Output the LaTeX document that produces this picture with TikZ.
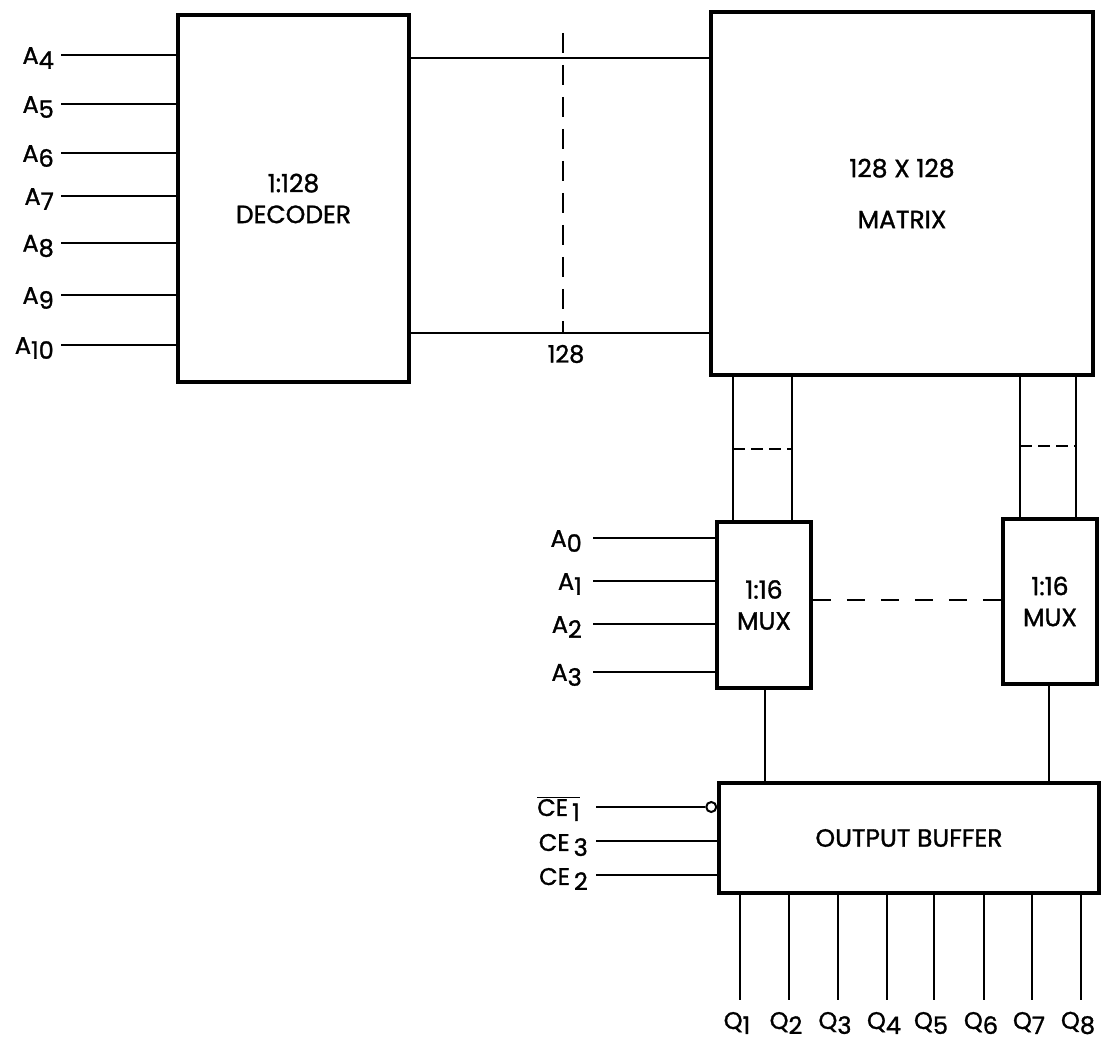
\documentclass[tikz,border=0pt]{standalone}
\usepackage{fontspec}
\setmainfont{Poppins}[FakeBold=1.2]
\newcommand{\lsub}[1]{\raisebox{-0.38ex}{#1}}
\begin{document}
\begin{tikzpicture}[x=1pt,y=-1pt,
  blk/.style={draw, line width=4.5pt, inner sep=0pt, align=center, font=\fontsize{25}{25}\selectfont},
  sblk/.style={blk, line width=3.5pt},
  wire/.style={line width=2.4pt},
  lbl/.style={inner sep=0pt, font=\fontsize{24}{24}\selectfont},
  longdash/.style={wire, dash pattern=on 20pt off 12pt},
  shortdash/.style={wire, dash pattern=on 12pt off 6pt}]
\useasboundingbox (0,0) rectangle (1109,1043);
% blocks
\node[blk, minimum width=231pt, minimum height=367pt] (dec) at (293.5,198.5) {1:128\\[6pt]DECODER};
\node[blk, minimum width=382pt, minimum height=363pt] (mat) at (902,193.5) {128 X 128\\[26pt]MATRIX};
\node[sblk, minimum width=94pt, minimum height=166pt] (muxL) at (764,605) {1:16\\[6pt]MUX};
\node[sblk, minimum width=94pt, minimum height=165pt] (muxR) at (1050,601.5) {1:16\\[6pt]MUX};
\node[sblk, minimum width=380pt, minimum height=110pt] (buf) at (909,838) {OUTPUT BUFFER};
% decoder inputs
\foreach \n/\y in {4/55,5/104,6/153,7/196,8/243,9/295,10/345} {
  \coordinate (ia\n) at (61,\y);
  \node[lbl, anchor=east] (la\n) at (54,\y+3) {A\lsub{\n}};
  \draw[wire] (ia\n) -- (ia\n -| dec.west);
}
% decoder to matrix bus
\draw[wire] (dec.east |- 0,58) -- (mat.west |- 0,58);
\draw[wire] (dec.east |- 0,333) -- (mat.west |- 0,333);
\coordinate (bt) at (563,33);
\coordinate (bb) at (563,333);
\draw[longdash] (bt) -- (bb);
\node[lbl] (n128) at (566,354) {128};
% matrix to mux buses
\foreach \x in {733,792} \draw[wire] (mat.south -| \x,0) -- (muxL.north -| \x,0);
\foreach \x in {1020,1076} \draw[wire] (mat.south -| \x,0) -- (muxR.north -| \x,0);
\coordinate (dl1) at (733,449); \coordinate (dl2) at (792,449);
\coordinate (dr1) at (1020,446); \coordinate (dr2) at (1076,446);
\draw[shortdash] (dl1) -- (dl2);
\draw[shortdash] (dr1) -- (dr2);
% mux to mux dashed
\draw[wire, dash pattern=on 18pt off 16pt] (muxL.east |- 0,600) -- (muxR.west |- 0,600);
% mux inputs
\foreach \n/\y in {0/538,1/581,2/624,3/672} {
  \coordinate (ib\n) at (593,\y);
  \node[lbl, anchor=east] (lb\n) at (582,\y+3) {A\lsub{\n}};
  \draw[wire] (ib\n) -- (ib\n -| muxL.west);
}
% mux outputs
\draw[wire] (muxL.south -| 765,0) -- (buf.north -| 765,0);
\draw[wire] (muxR.south -| 1049,0) -- (buf.north -| 1049,0);
% chip enables
\node[circle, draw, line width=2pt, minimum size=10pt, inner sep=0pt, anchor=east] (bub) at (buf.west |- 0,807) {};
\coordinate (ce1) at (596,807);
\coordinate (ce3) at (596,841);
\coordinate (ce2) at (596,875);
\draw[wire] (ce1) -- (bub.west);
\draw[wire] (ce3) -- (ce3 -| buf.west);
\draw[wire] (ce2) -- (ce2 -| buf.west);
\node[lbl, anchor=east] (lce1) at (580,809) {$\overline{\hbox{CE\,\lsub{1}}}$};
\node[lbl, anchor=east] (lce3) at (588,845) {CE\,\lsub{3}};
\node[lbl, anchor=east] (lce2) at (588,879) {CE\,\lsub{2}};
% outputs
\foreach \x [count=\i] in {740,789,838,887,934,984,1032,1081} {
  \coordinate (qe\i) at (\x,1000);
  \draw[wire] (buf.south -| qe\i) -- (qe\i);
  \node[lbl] (lq\i) at (\x-3,1023) {Q\lsub{\i}};
}
\end{tikzpicture}
\end{document}
